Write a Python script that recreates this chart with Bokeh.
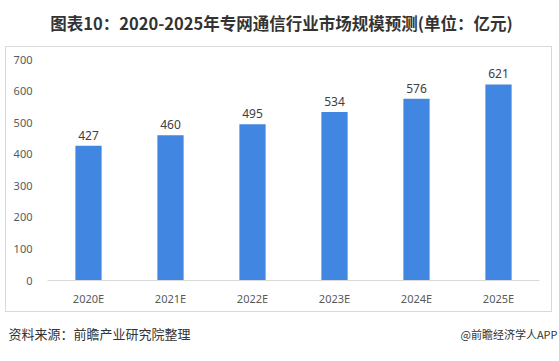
from bokeh.plotting import figure
from bokeh.models import ColumnDataSource, SingleIntervalTicker, Range1d
from bokeh.layouts import column, row
from bokeh.core.properties import value
from bokeh.embed import file_html
from bokeh.resources import INLINE

categories = ["2020E", "2021E", "2022E", "2023E", "2024E", "2025E"]
values = [427, 460, 495, 534, 576, 621]
labels = [str(v) for v in values]

title_text = "图表10：2020-2025年专网通信行业市场规模预测(单位：亿元)"
source_text = "资料来源：前瞻产业研究院整理"
brand_text = "@前瞻经济学人APP"


def blank(w, h):
    f = figure(width=w, height=h, output_backend="svg", toolbar_location=None, tools="",
               x_range=Range1d(0, w), y_range=Range1d(h, 0),
               x_axis_location=None, y_axis_location=None,
               min_border=0, min_border_left=0, min_border_right=0,
               min_border_top=0, min_border_bottom=0)
    f.grid.visible = False
    f.outline_line_color = None
    f.background_fill_color = "white"
    f.border_fill_color = "white"
    return f


# header
head = blank(559, 46)
head.text(x=[281], y=[22], text=[title_text], text_align="center", text_baseline="middle",
          text_font_size="16.5px", text_font_style="bold", text_color="#333333",
          text_font=value("Noto Sans CJK SC"))

# main chart
src = ColumnDataSource(dict(cat=categories, val=values, lab=labels))
p = figure(x_range=categories, width=547, height=266, output_backend="svg",
           toolbar_location=None, tools="",
           min_border_left=41, min_border_right=14, min_border_top=12, min_border_bottom=33,
           styles={"border": "1px solid #d9d9d9"}, margin=(0, 0, 0, 5))
p.y_range = Range1d(0, 700)
p.x_range.range_padding = 0
p.outline_line_color = None
p.background_fill_color = "white"
p.border_fill_color = "white"
p.xgrid.grid_line_color = None
p.ygrid.grid_line_color = None

p.vbar(x="cat", top="val", width=0.32, source=src, fill_color="#4186E0", line_color=None)
p.text(x="cat", y="val", text="lab", source=src, text_align="center", text_baseline="bottom",
       y_offset=-6, text_font_size="12px", text_color="#404040", text_font=value("Noto Sans"))

p.yaxis.ticker = SingleIntervalTicker(interval=100)
p.yaxis.axis_line_color = None
p.yaxis.major_tick_line_color = None
p.yaxis.minor_tick_line_color = None
p.yaxis.major_tick_out = 0
p.yaxis.minor_tick_out = 0
p.yaxis.major_label_text_font_size = "11px"
p.yaxis.major_label_text_color = "#595959"
p.yaxis.major_label_text_font = "Noto Sans"
p.yaxis.major_label_standoff = 15

p.xaxis.axis_line_color = "#d9d9d9"
p.xaxis.major_tick_line_color = None
p.xaxis.minor_tick_line_color = None
p.xaxis.major_tick_out = 0
p.xaxis.minor_tick_out = 0
p.xaxis.major_label_text_font_size = "11px"
p.xaxis.major_label_text_color = "#595959"
p.xaxis.major_label_text_font = "Noto Sans"
p.xaxis.major_label_standoff = 10

# footer
foot = blank(559, 47)
foot.text(x=[8], y=[21], text=[source_text], text_align="left", text_baseline="middle",
          text_font_size="13px", text_color="#333333", text_font=value("Noto Sans CJK SC"))
foot.text(x=[557], y=[21], text=[brand_text], text_align="right", text_baseline="middle",
          text_font_size="11px", text_color="#333333", text_font=value("Noto Sans CJK SC"))

layout = column(row(head), row(p), row(foot), spacing=0)
open("out.html", "w").write(file_html(layout, INLINE))
